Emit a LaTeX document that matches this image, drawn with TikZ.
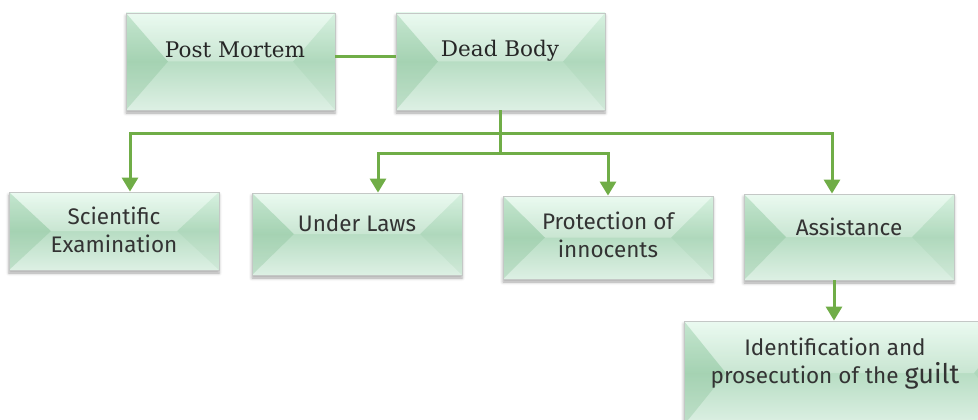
\documentclass[tikz,border=0pt]{standalone}
\usepackage{fontspec}
\setmainfont{Fira Sans}
\newfontfamily\topfont{DejaVu Serif}
\usetikzlibrary{arrows.meta,shadows.blur,calc}
\definecolor{conn}{HTML}{70AD47}
\definecolor{bevtop}{HTML}{E4F9EC}
\definecolor{bevmid}{HTML}{B7DDC3}
\definecolor{bevbot}{HTML}{DDF0E4}
\definecolor{bevleft}{HTML}{7DBB8E}
\definecolor{bevedge}{HTML}{C4C8C6}
\tikzset{
  bev/.style n args={2}{draw=bevedge, line width=0.8pt,
    top color=bevtop, bottom color=bevbot, middle color=bevmid,
    minimum width=#1, minimum height=#2, inner sep=0pt,
    blur shadow={shadow xshift=0pt, shadow yshift=-3pt, shadow blur radius=3pt, shadow opacity=35},
    path picture={
      \path (path picture bounding box.north west) coordinate (ppa)
            (path picture bounding box.south east) coordinate (ppb);
      \fill[bevleft, opacity=0.3]
        (ppa) -- (ppa|-ppb) -- ($(ppa)!0.5!(ppa|-ppb)+(42pt,0)$) -- cycle;
      \fill[bevleft, opacity=0.12]
        (ppb) -- (ppb|-ppa) -- ($(ppb)!0.5!(ppb|-ppa)+(-42pt,0)$) -- cycle;
      \fill[white, opacity=0.25]
        (ppa) -- (ppb|-ppa) -- ($(ppb)!0.5!(ppb|-ppa)+(-42pt,0)$) -- ($(ppa)!0.5!(ppa|-ppb)+(42pt,0)$) -- cycle;
    }},
  lbl/.style={align=center, font=\fontsize{22.5}{28}\selectfont, text=black!80},
  toplbl/.style={align=center, font=\topfont\fontsize{21.5}{26}\selectfont, text=black!85},
  conn/.style={draw=conn, line width=3pt},
  arr/.style={conn, -{Triangle[width=16pt,length=14pt]}}
}
\begin{document}
\begin{tikzpicture}[x=1pt,y=-1pt]
\useasboundingbox (0,0) rectangle (978,420);
\clip (0,0) rectangle (978,420);
% boxes
\node[bev={209}{97}] (pm) at (230.5,61.5) {};
\node[bev={209}{97}] (db) at (500.5,61.5) {};
\node[bev={210}{78}] (se) at (114,231) {};
\node[bev={210}{82}] (ul) at (357,234) {};
\node[bev={210}{83}] (pi) at (608,237.5) {};
\node[bev={210}{86}] (as) at (849,237) {};
\node[bev={332}{104}] (id) at (850,373) {};
% labels
\node[toplbl] (pmt) at (235,50) {Post Mortem};
\node[toplbl] (dbt) at (500,51) {Dead Body};
\node[lbl] (set) at (114,230) {Scientific\\Examination};
\node[lbl] (ult) at (357,223) {Under Laws};
\node[lbl] (pit) at (608,235) {Protection of\\innocents};
\node[lbl] (ast) at (849,227) {Assistance};
\node[lbl] (idt) at (835,364) {Identification and\\prosecution of the \fontsize{27}{30}\selectfont guilt};
% connectors
\coordinate (j1) at (500.5,133);
\coordinate (j2) at (500.5,153);
\draw[conn] ([yshift=4.5pt]pm.east) -- ([yshift=4.5pt]db.west);
\draw[conn] (db.south) -- (j2);
\draw[arr] (j1) -| ([xshift=16pt]se.north);
\draw[arr] (j1) -| ([xshift=-17pt]as.north);
\draw[arr] (j2) -| ([xshift=21pt]ul.north);
\draw[arr] (j2) -| (pi.north);
\draw[arr] ([xshift=-15pt]as.south) -- ([xshift=-15pt]as.south |- id.north);
\end{tikzpicture}
\end{document}
